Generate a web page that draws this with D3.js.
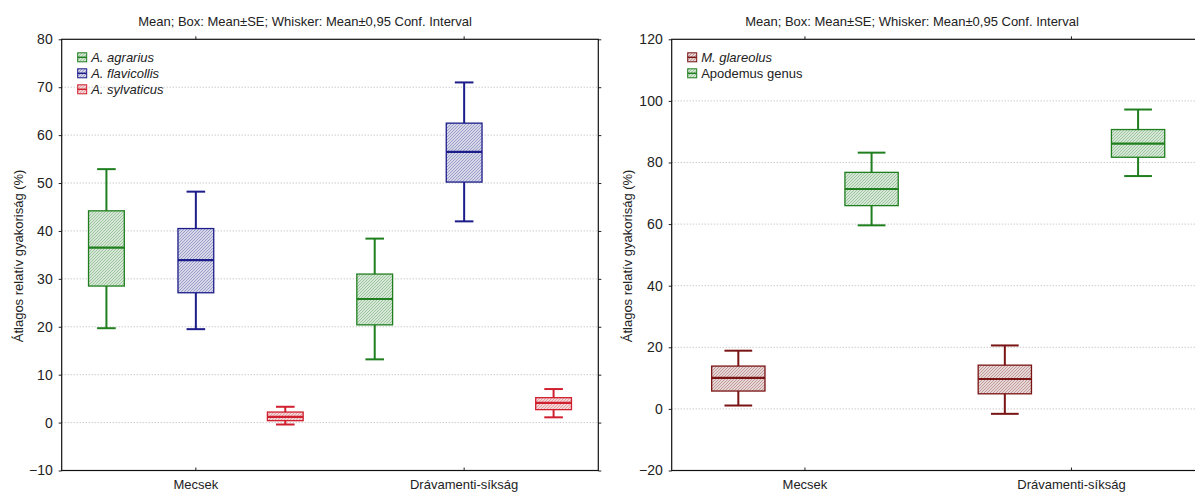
<!DOCTYPE html>
<html lang="hu">
<head>
<meta charset="UTF-8" />
<script src="https://d3js.org/d3.v7.min.js"></script>
<title>Átlagos relatív gyakoriság</title>
<style>
  body { margin: 0; background: #fff; }
  text { font-family: Arial, "Liberation Sans", sans-serif; fill: #222; }
</style>
</head>
<body>
<script>
const categories = ['Mecsek', 'Drávamenti-síkság']
const titleText = 'Mean; Box: Mean±SE; Whisker: Mean±0,95 Conf. Interval'
const yLabel = 'Átlagos relatív gyakoriság (%)'

// bal panel: Apodemus fajok
const leftSeries = ['A. agrarius', 'A. flavicollis', 'A. sylvaticus']
const leftItalic = [true, true, true]
const leftColors = ['#1f7f1f', '#1c1c8a', '#d01f2e']
const leftMean = [[36.5, 25.8], [33.9, 56.5], [1.2, 4.1]]
const leftBoxLow = [[28.5, 20.4], [27.1, 50.2], [0.4, 2.7]]
const leftBoxHigh = [[44.2, 31.0], [40.5, 62.5], [2.2, 5.2]]
const leftWhiskLow = [[19.7, 13.2], [19.5, 42.0], [-0.4, 1.1]]
const leftWhiskHigh = [[52.9, 38.4], [48.2, 71.0], [3.3, 7.0]]
const leftTicks = [-10, 0, 10, 20, 30, 40, 50, 60, 70, 80]

// jobb panel: M. glareolus és Apodemus nemzetség
const rightSeries = ['M. glareolus', 'Apodemus genus']
const rightItalic = [true, false]
const rightColors = ['#7a1414', '#1f7f1f']
const rightMean = [[10.1, 9.7], [71.4, 86.1]]
const rightBoxLow = [[5.8, 4.9], [66.0, 81.7]]
const rightBoxHigh = [[13.9, 14.2], [76.8, 90.7]]
const rightWhiskLow = [[1.1, -1.6], [59.6, 75.6]]
const rightWhiskHigh = [[18.9, 20.6], [83.2, 97.2]]
const rightTicks = [-20, 0, 20, 40, 60, 80, 100, 120]

const width = 1195, height = 493
const svg = d3.select('body').append('svg').attr('width', width).attr('height', height)
const defs = svg.append('defs')

function hatch(id, color) {
  const p = defs.append('pattern').attr('id', id)
    .attr('patternUnits', 'userSpaceOnUse').attr('width', 3).attr('height', 3)
  p.append('rect').attr('width', 3).attr('height', 3).attr('fill', '#f7f9f7')
  p.append('path').attr('d', 'M-0.75,0.75 l1.5,-1.5 M0,3 l3,-3 M2.25,3.75 l1.5,-1.5')
    .attr('stroke', color).attr('stroke-width', 0.9).attr('opacity', 0.8)
}

function panel(cfg) {
  const g = svg.append('g').attr('transform', `translate(${cfg.left},${cfg.top})`)
  const w = cfg.w, h = cfg.h

  const y = d3.scaleLinear().domain(d3.extent(cfg.ticks)).range([h, 0])
  const x = d3.scaleBand().domain(categories).range([0, w])
  const inner = d3.scaleBand().domain(cfg.series).range([0, x.bandwidth()])
  const boxW = inner.bandwidth() * 0.4
  const capW = boxW * 0.52

  // rács
  g.append('g').selectAll('line').data(cfg.ticks.slice(1, -1)).join('line')
    .attr('x1', 0).attr('x2', w).attr('y1', d => y(d)).attr('y2', d => y(d))
    .attr('stroke', '#b5b5b5').attr('stroke-width', 1).attr('stroke-dasharray', '1,2')

  // tengelyek
  const ax = g.append('g').call(d3.axisLeft(y).tickValues(cfg.ticks).tickSize(3).tickPadding(6))
  ax.selectAll('text').style('font-size', '14px')
  g.append('g').attr('transform', `translate(${w},0)`)
    .call(d3.axisRight(y).tickValues(cfg.ticks).tickSize(3).tickFormat(''))
  g.append('g').call(d3.axisTop(x).tickSize(3).tickFormat(''))
  const bx = g.append('g').attr('transform', `translate(0,${h})`)
    .call(d3.axisBottom(x).tickSize(-3).tickPadding(9))
  bx.selectAll('text').style('font-size', '13px')
  g.selectAll('.domain').remove()
  g.selectAll('.tick line').attr('stroke', '#222')
  g.append('rect').attr('width', w).attr('height', h)
    .attr('fill', 'none').attr('stroke', '#111').attr('stroke-width', 1.2)

  // dobozok
  cfg.series.forEach((s, i) => {
    const pid = cfg.id + '-h' + i
    hatch(pid, cfg.colors[i])
    const sg = g.append('g')
    const rows = categories.map((c, j) => ({
      cx: x(c) + inner(s) + inner.bandwidth() / 2,
      mean: cfg.mean[i][j], bl: cfg.boxLow[i][j], bh: cfg.boxHigh[i][j],
      wl: cfg.whiskLow[i][j], wh: cfg.whiskHigh[i][j]
    }))
    const col = cfg.colors[i]
    sg.selectAll('.wh').data(rows).join('line')
      .attr('x1', d => d.cx).attr('x2', d => d.cx)
      .attr('y1', d => y(d.wl)).attr('y2', d => y(d.wh))
      .attr('stroke', col).attr('stroke-width', 2)
    sg.selectAll('.cap').data(rows.flatMap(d => [{ cx: d.cx, v: d.wl }, { cx: d.cx, v: d.wh }])).join('line')
      .attr('x1', d => d.cx - capW / 2).attr('x2', d => d.cx + capW / 2)
      .attr('y1', d => y(d.v)).attr('y2', d => y(d.v))
      .attr('stroke', col).attr('stroke-width', 2)
    sg.selectAll('rect').data(rows).join('rect')
      .attr('x', d => d.cx - boxW / 2).attr('width', boxW)
      .attr('y', d => y(d.bh)).attr('height', d => y(d.bl) - y(d.bh))
      .attr('fill', `url(#${pid})`).attr('stroke', col).attr('stroke-width', 1.3)
    sg.selectAll('.med').data(rows).join('line')
      .attr('x1', d => d.cx - boxW / 2).attr('x2', d => d.cx + boxW / 2)
      .attr('y1', d => y(d.mean)).attr('y2', d => y(d.mean))
      .attr('stroke', col).attr('stroke-width', 2.2)
  })

  // jelmagyarázat
  const lg = g.append('g').attr('transform', 'translate(16,18)')
  cfg.series.forEach((s, i) => {
    const row = lg.append('g').attr('transform', `translate(0,${i * 16})`)
    row.append('rect').attr('x', 0).attr('y', -4.5).attr('width', 9).attr('height', 9)
      .attr('fill', `url(#${cfg.id}-h${i})`).attr('stroke', cfg.colors[i]).attr('stroke-width', 1)
    row.append('line').attr('x1', 0).attr('x2', 9).attr('y1', 0).attr('y2', 0)
      .attr('stroke', cfg.colors[i]).attr('stroke-width', 1.5)
    row.append('text').attr('x', 13.5).attr('y', 0).attr('dy', '0.35em')
      .style('font-size', '13px').style('font-style', cfg.italic[i] ? 'italic' : 'normal')
      .text(s)
  })

  // címek
  svg.append('text').attr('x', cfg.titleX).attr('y', 21).attr('dy', '0.35em')
    .attr('text-anchor', 'middle').style('font-size', '13px').text(titleText)
  svg.append('text').attr('transform', `translate(${cfg.labelX},${cfg.top + h / 2 + 1}) rotate(-90)`)
    .attr('text-anchor', 'middle').attr('dy', '0.35em').style('font-size', '13px').text(yLabel)
}

panel({
  id: 'bal', left: 61.7, top: 39.3, w: 536.6, h: 431.2, titleX: 305, labelX: 18,
  series: leftSeries, italic: leftItalic, colors: leftColors, ticks: leftTicks,
  mean: leftMean, boxLow: leftBoxLow, boxHigh: leftBoxHigh, whiskLow: leftWhiskLow, whiskHigh: leftWhiskHigh
})
panel({
  id: 'jobb', left: 671.7, top: 39.3, w: 533, h: 431.2, titleX: 912, labelX: 627,
  series: rightSeries, italic: rightItalic, colors: rightColors, ticks: rightTicks,
  mean: rightMean, boxLow: rightBoxLow, boxHigh: rightBoxHigh, whiskLow: rightWhiskLow, whiskHigh: rightWhiskHigh
})
</script>
</body>
</html>
